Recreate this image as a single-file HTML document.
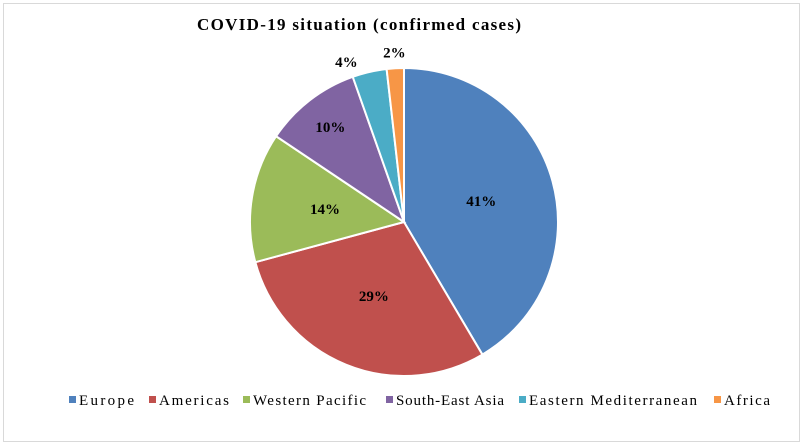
<!DOCTYPE html>
<html><head><meta charset="utf-8"><style>
body{margin:0;background:#fff;}
#wrap{position:relative;width:805px;height:447px;overflow:hidden;}
#frame{position:absolute;left:3px;top:3px;width:797px;height:439px;border:1px solid #d9d9d9;box-sizing:border-box;}
svg text{font-family:"Liberation Serif",serif;}
</style></head><body>
<div id="wrap">
<div id="frame"></div>
<svg id="chart" width="805" height="447" style="position:absolute;left:0;top:0">
<text x="197" y="30" font-size="17" font-weight="bold" textLength="324" lengthAdjust="spacing">COVID-19 situation (confirmed cases)</text>
</svg>
</div>
<script>
const categories=["Europe","Americas","Western Pacific","South-East Asia","Eastern Mediterranean","Africa"];
const values=[41.5,29.3,13.6,10.2,3.6,1.8];
const labels=["41%","29%","14%","10%","4%","2%"];
const colors=["#4F81BD","#C0504D","#9BBB59","#8064A2","#4BACC6","#F79646"];
const svg=document.getElementById('chart');
const NS="http://www.w3.org/2000/svg";
const cx=404,cy=222,r=154;
const total=values.reduce((a,b)=>a+b,0);
let acc=0;
function pt(a,rad){return [cx+rad*Math.sin(a),cy-rad*Math.cos(a)];}
values.forEach((v,i)=>{
  const a0=acc/total*2*Math.PI; acc+=v; const a1=acc/total*2*Math.PI;
  const p0=pt(a0,r),p1=pt(a1,r);
  const large=(a1-a0)>Math.PI?1:0;
  const path=document.createElementNS(NS,'path');
  path.setAttribute('d',`M${cx},${cy}L${p0[0]},${p0[1]}A${r},${r} 0 ${large} 1 ${p1[0]},${p1[1]}Z`);
  path.setAttribute('fill',colors[i]);
  path.setAttribute('stroke','#fff');
  path.setAttribute('stroke-width','2');
  
  
  svg.appendChild(path);
  let mid=(a0+a1)/2;
  const frac=v/total;
  if(frac<0.05 && frac>0.03) mid-=0.12;
  const lr=frac<0.05?r+16:(frac<0.12?r*0.78:r*0.52);
  const lp=pt(mid,lr);
  const t=document.createElementNS(NS,'text');
  t.setAttribute('x',lp[0]);t.setAttribute('y',lp[1]+5);
  t.setAttribute('text-anchor','middle');t.setAttribute('font-size','15');t.setAttribute('font-weight','bold');
  t.textContent=labels[i];
  
  
  svg.appendChild(t);
});
// legend
const lx=[69,149,243,386,519,714];
const lw=[55,70,113,108,168,46];
categories.forEach((c,i)=>{
  const g=document.createElementNS(NS,'g');
  
  
  const rc=document.createElementNS(NS,'rect');
  rc.setAttribute('x',lx[i]);rc.setAttribute('y',396);rc.setAttribute('width',7);rc.setAttribute('height',7);
  rc.setAttribute('fill',colors[i]);
  g.appendChild(rc);
  const t=document.createElementNS(NS,'text');
  t.setAttribute('x',lx[i]+10);t.setAttribute('y',405);t.setAttribute('font-size','15');
  t.setAttribute('textLength',lw[i]);t.setAttribute('lengthAdjust','spacing');
  t.textContent=c;
  g.appendChild(t);
  svg.appendChild(g);
});
</script>
</body></html>
